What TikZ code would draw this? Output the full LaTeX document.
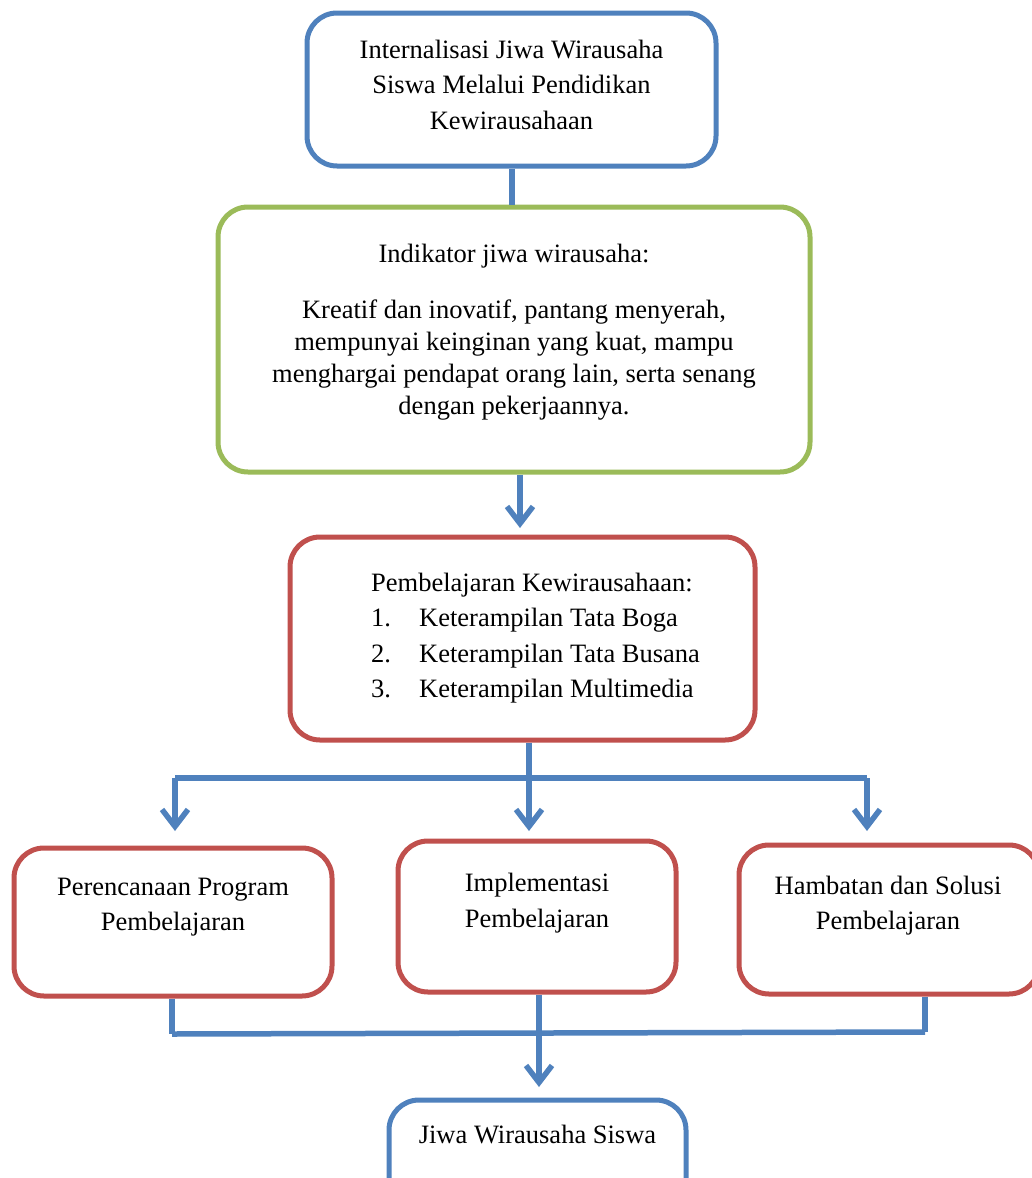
\documentclass[tikz,border=0pt]{standalone}
\usepackage{fontspec}
\setmainfont{Liberation Serif}
\usetikzlibrary{arrows.meta,calc}
\definecolor{cblue}{RGB}{79,129,189}
\definecolor{cgreen}{RGB}{155,187,89}
\definecolor{cred}{RGB}{192,80,77}
\begin{document}
\begin{tikzpicture}[x=1pt,y=-1pt,
  box/.style={draw=#1, line width=5pt, rounded corners=30pt, inner sep=0pt, fill=white},
  txt/.style={align=center, inner sep=0pt, font=\fontsize{26.5}{35.5}\selectfont},
  conn/.style={draw=cblue, line width=5.5pt},
  arr/.style={conn, -{Straight Barb[length=17pt,width=26pt]}}]
\useasboundingbox (0,0) rectangle (1032,1178);
\clip (0,0) rectangle (1032,1178);
% boxes
\node[box=cblue, minimum width=409pt, minimum height=153pt] (b1) at (511.5,89.5) {};
\node[box=cgreen, minimum width=592pt, minimum height=265pt] (b2) at (514,339.5) {};
\node[box=cred, minimum width=465pt, minimum height=203pt] (b3) at (522.5,638.5) {};
\node[box=cred, minimum width=318pt, minimum height=148pt] (b4) at (173,922) {};
\node[box=cred, minimum width=278pt, minimum height=151pt] (b5) at (537,916.5) {};
\node[box=cred, minimum width=300pt, minimum height=149pt] (b6) at (889,919.5) {};
\node[box=cblue, minimum width=297pt, minimum height=140pt] (b7) at (537.5,1170) {};
% texts
\node[txt] (t1) at (511.5,84.5) {Internalisasi Jiwa Wirausaha\\Siswa Melalui Pendidikan\\Kewirausahaan};
\node[txt] (t2a) at (514,256) {Indikator jiwa wirausaha:};
\node[txt, font=\fontsize{26.5}{32.3}\selectfont] (t2b) at (514,360) {Kreatif dan inovatif, pantang menyerah,\\mempunyai keinginan yang kuat, mampu\\menghargai pendapat orang lain, serta senang\\dengan pekerjaannya.};
\node[txt, align=left, anchor=west] (t3) at (371,638) {Pembelajaran Kewirausahaan:\\
\makebox[48pt][l]{1.}Keterampilan Tata Boga\\
\makebox[48pt][l]{2.}Keterampilan Tata Busana\\
\makebox[48pt][l]{3.}Keterampilan Multimedia};
\node[txt] (t4) at (173,907) {Perencanaan Program\\Pembelajaran};
\node[txt] (t5) at (537,903) {Implementasi\\Pembelajaran};
\node[txt] (t6) at (888,905.5) {Hambatan dan Solusi\\Pembelajaran};
\node[txt] (t7) at (537.5,1134) {Jiwa Wirausaha Siswa};
% connector coordinates
\coordinate (j1) at (529,778);
\coordinate (jl) at (175,778);
\coordinate (jr) at (867,778);
\coordinate (tl) at (175,831);
\coordinate (tm) at (529,831);
\coordinate (tr) at (867,831);
\coordinate (kl) at (172,1034);
\coordinate (km) at (539,1033);
\coordinate (kr) at (925,1032);
\coordinate (tb) at (539,1087);
\coordinate (tg) at (520,528);
% connectors
\draw[conn] (b1.south -| 512,0) -- (b2.north -| 512,0);
\draw[arr] (b2.south -| tg) -- (tg);
\draw[conn] (b3.south -| j1) -- (j1);
\draw[conn] (jl) -- (jr);
\draw[arr] (jl) -- (tl);
\draw[arr] (j1) -- (tm);
\draw[arr] (jr) -- (tr);
\draw[conn] (b4.south -| kl) -- (kl);
\draw[conn] (b5.south -| km) -- (km);
\draw[conn] (b6.south -| kr) -- (kr);
\draw[conn] (kl) -- (kr);
\draw[arr] (km) -- (tb);
\end{tikzpicture}
\end{document}
